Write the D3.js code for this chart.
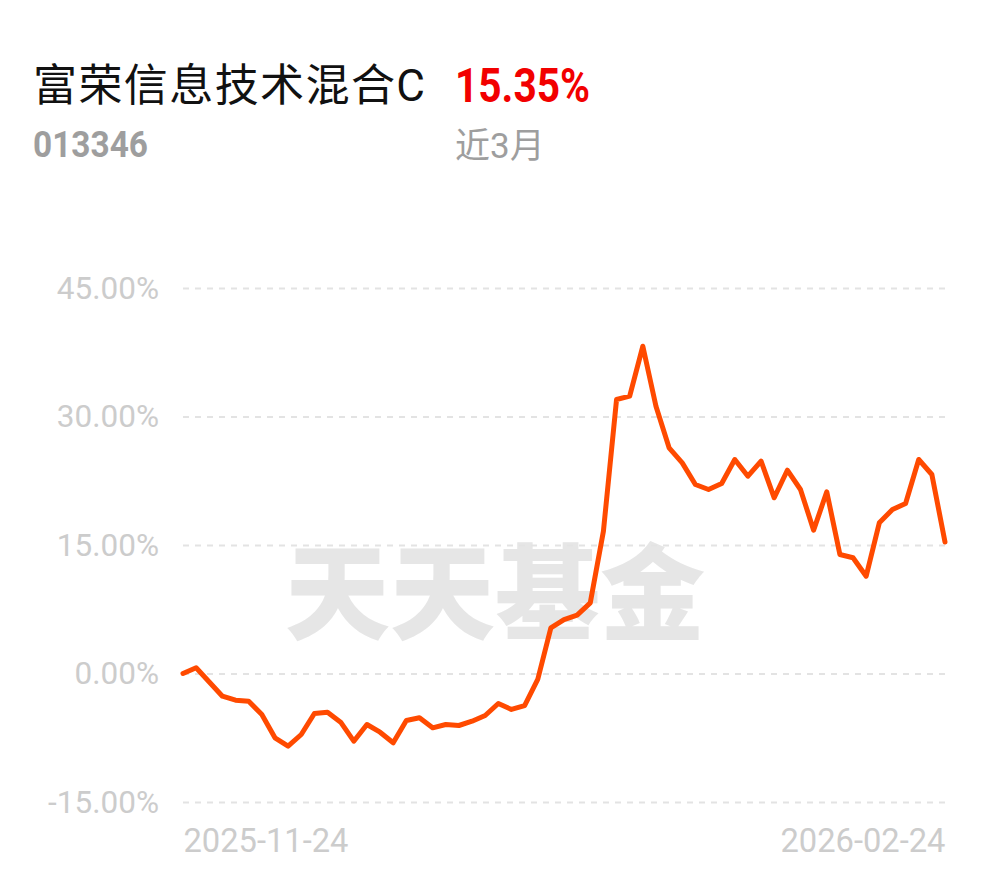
<!DOCTYPE html>
<html>
<head>
	<meta charset="utf-8">
	<title>富荣信息技术混合C</title>
	<script src="https://d3js.org/d3.v7.min.js"></script>
	<style>
		body { margin: 0; background: #fff; }
		text { font-family: Roboto, "Noto Sans CJK SC", sans-serif; }
	</style>
</head>
<body>
	<svg width="990" height="878"></svg>
	<script>
		// fund info
		const fundName = "富荣信息技术混合C";
		const fundCode = "013346";
		const periodReturn = "15.35%";
		const periodLabel = "近3月";

		// cumulative return (%)
		const returns = [0, 0.67, -0.99, -2.65, -3.12, -3.23, -4.79, -7.51, -8.49, -7.12,
			-4.67, -4.52, -5.68, -7.90, -5.95, -6.85, -8.09, -5.49, -5.17, -6.34,
			-5.95, -6.07, -5.57, -4.90, -3.50, -4.20, -3.74, -0.70, 5.33, 6.30,
			6.81, 8.25, 16.61, 31.98, 32.37, 38.20, 31.20, 26.35, 24.59, 22.06,
			21.48, 22.18, 24.98, 23.03, 24.78, 20.51, 23.73, 21.48, 16.73, 21.21,
			13.89, 13.51, 11.36, 17.59, 19.14, 19.84, 24.98, 23.23, 15.35];
		const yTicks = [-15, 0, 15, 30, 45];
		const xLabels = ["2025-11-24", "2026-02-24"];

		const svg = d3.select('svg');
		const plotLeft = 183, plotRight = 946, plotTop = 288, plotBottom = 802;

		const x = d3.scaleLinear().domain([0, returns.length - 1]).range([plotLeft, plotRight - 1]);
		const y = d3.scaleLinear().domain([-15, 45]).range([plotBottom, plotTop]);

		// header
		svg.append('text').attr('x', 33).attr('y', 101)
			.attr('font-size', 44).attr('fill', '#111')
			.attr('textLength', 392).attr('lengthAdjust', 'spacing')
			.text(fundName);
		svg.append('text').attr('x', 455).attr('y', 102)
			.attr('font-size', 49).attr('font-weight', 700).attr('fill', '#f20000')
			.attr('textLength', 135).attr('lengthAdjust', 'spacingAndGlyphs')
			.text(periodReturn);
		svg.append('text').attr('x', 33).attr('y', 157)
			.attr('font-size', 36).attr('font-weight', 700).attr('fill', '#9e9e9e')
			.attr('textLength', 115).attr('lengthAdjust', 'spacingAndGlyphs')
			.text(fundCode);
		svg.append('text').attr('x', 455).attr('y', 158)
			.attr('font-size', 35).attr('fill', '#9e9e9e')
			.text(periodLabel);

		// watermark
		svg.append('text').attr('x', 285).attr('y', 632)
			.attr('font-size', 104).attr('font-weight', 900).attr('fill', '#e6e6e6')
			.style('font-family', '"Noto Sans CJK SC"')
			.attr('textLength', 420).attr('lengthAdjust', 'spacingAndGlyphs')
			.text('天天基金');

		// y axis + dashed grid
		const yAxis = svg.append('g')
			.attr('transform', `translate(${plotLeft},0)`)
			.call(d3.axisLeft(y).tickValues(yTicks)
				.tickSize(-(plotRight - plotLeft)).tickPadding(24)
				.tickFormat(d => d.toFixed(2) + '%'));
		yAxis.select('.domain').remove();
		yAxis.selectAll('line')
			.attr('stroke', '#e3e3e3').attr('stroke-width', 2)
			.attr('stroke-dasharray', '6,6');
		yAxis.selectAll('text')
			.attr('fill', '#cccccc').attr('font-size', 31.5)
			.style('font-family', 'Roboto');

		// x axis, first and last date only
		const xAxis = svg.append('g')
			.attr('transform', `translate(0,${plotBottom})`)
			.call(d3.axisBottom(x).tickValues([0, returns.length - 1])
				.tickSize(0).tickPadding(24)
				.tickFormat((d, i) => xLabels[i]));
		xAxis.select('.domain').remove();
		xAxis.selectAll('text')
			.attr('fill', '#cccccc').attr('font-size', 34)
			.attr('textLength', 165).attr('lengthAdjust', 'spacingAndGlyphs')
			.attr('text-anchor', (d, i) => i === 0 ? 'start' : 'end')
			.attr('dy', '0.75em')
			.style('font-family', 'Roboto');

		// return line
		const line = d3.line()
			.x((d, i) => x(i))
			.y(d => y(d));
		svg.append('path')
			.datum(returns)
			.attr('d', line)
			.attr('fill', 'none')
			.attr('stroke', '#ff4a00')
			.attr('stroke-width', 5)
			.attr('stroke-linejoin', 'round')
			.attr('stroke-linecap', 'round');
	</script>
</body>
</html>
